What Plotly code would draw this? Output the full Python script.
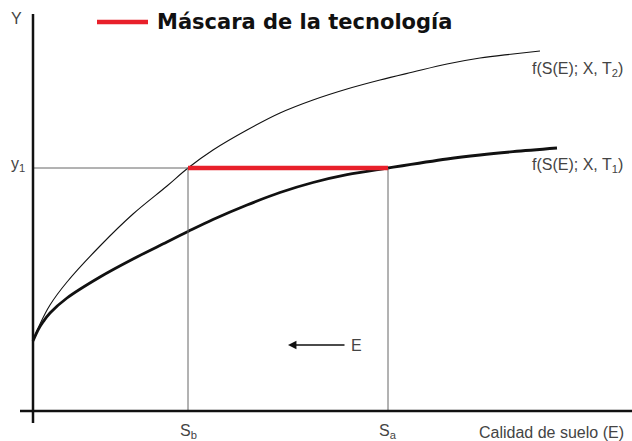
import plotly.graph_objects as go

# Curve data (soil quality E on x, output Y)
e_t2 = [0, 7, 17, 34, 67, 100, 134, 155, 180, 214, 247, 280, 314, 347, 380, 414, 447, 480, 507]
y_t2 = [70, 87, 106, 129, 165, 197, 225, 243, 261, 281, 298, 311, 322, 331, 339, 347, 353, 357, 360]
e_t1 = [0, 5, 10, 17, 34, 67, 100, 134, 155, 180, 214, 247, 280, 314, 355, 414, 447, 480, 524]
y_t1 = [70, 81, 89, 98, 113, 134, 152, 169, 179.5, 191.5, 206, 218.5, 228.5, 236.3, 243, 252, 256, 259.3, 263]

y1 = 243
s_b = 155
s_a = 355
x_max = 599

fig = go.Figure()
fig.add_trace(go.Scatter(x=e_t2, y=y_t2, mode="lines", line=dict(color="#111", width=1.1, shape="spline"), hoverinfo="skip"))
fig.add_trace(go.Scatter(x=e_t1, y=y_t1, mode="lines", line=dict(color="#111", width=2.8, shape="spline"), hoverinfo="skip"))
# guide lines
fig.add_trace(go.Scatter(x=[0, s_a], y=[y1, y1], mode="lines", line=dict(color="#666", width=1), hoverinfo="skip"))
fig.add_trace(go.Scatter(x=[s_b, s_b], y=[0, y1], mode="lines", line=dict(color="#666", width=1), hoverinfo="skip"))
fig.add_trace(go.Scatter(x=[s_a, s_a], y=[0, y1], mode="lines", line=dict(color="#666", width=1), hoverinfo="skip"))
# technology mask
fig.add_trace(go.Scatter(x=[s_b, s_a], y=[y1, y1], mode="lines", line=dict(color="#e8202a", width=4.5), hoverinfo="skip"))
# axes
fig.add_trace(go.Scatter(x=[-13, x_max], y=[0, 0], mode="lines", line=dict(color="#111", width=2.5), hoverinfo="skip"))
fig.add_trace(go.Scatter(x=[0, 0], y=[-12, 397], mode="lines", line=dict(color="#111", width=2.5), hoverinfo="skip"))

font = dict(family="Liberation Sans, Arial", size=16, color="#444")
ann = [
    dict(x=-17, y=393, text="Y", showarrow=False, font=font),
    dict(x=-15, y=247, text="y<sub>1</sub>", showarrow=False, font=font),
    dict(x=s_b, y=-20, text="S<sub>b</sub>", showarrow=False, font=font),
    dict(x=s_a, y=-20, text="S<sub>a</sub>", showarrow=False, font=font),
    dict(x=593, y=-21, text="Calidad de suelo (E)", showarrow=False, xanchor="right", font=font),
    dict(x=497, y=342, text="f(S(E); X, T<sub>2</sub>)", showarrow=False, xanchor="left", font=font),
    dict(x=497, y=246, text="f(S(E); X, T<sub>1</sub>)", showarrow=False, xanchor="left", font=font),
    dict(x=316, y=66, text="E", showarrow=False, xanchor="left", font=font),
    dict(x=255, y=66, ax=313, ay=66, axref="x", ayref="y", text="", showarrow=True,
         arrowhead=2, arrowsize=1.3, arrowwidth=1.3, arrowcolor="#111"),
    dict(x=122, y=389, text="<b>Máscara de la tecnología</b>", showarrow=False, xanchor="left",
         font=dict(family="DejaVu Sans, Arial", size=21, color="#111")),
]
fig.add_shape(type="line", x0=64, x1=115, y0=389, y1=389, line=dict(color="#e8202a", width=4.5))

fig.update_layout(
    width=632, height=441, margin=dict(l=0, r=0, t=0, b=0),
    plot_bgcolor="white", paper_bgcolor="white", showlegend=False,
    xaxis=dict(range=[-33, 599], visible=False, fixedrange=True),
    yaxis=dict(range=[-30, 411], visible=False, fixedrange=True),
    annotations=ann,
)
fig.write_html("out.html", config={"displayModeBar": False},
               post_script="document.body.style.margin='0px';")
